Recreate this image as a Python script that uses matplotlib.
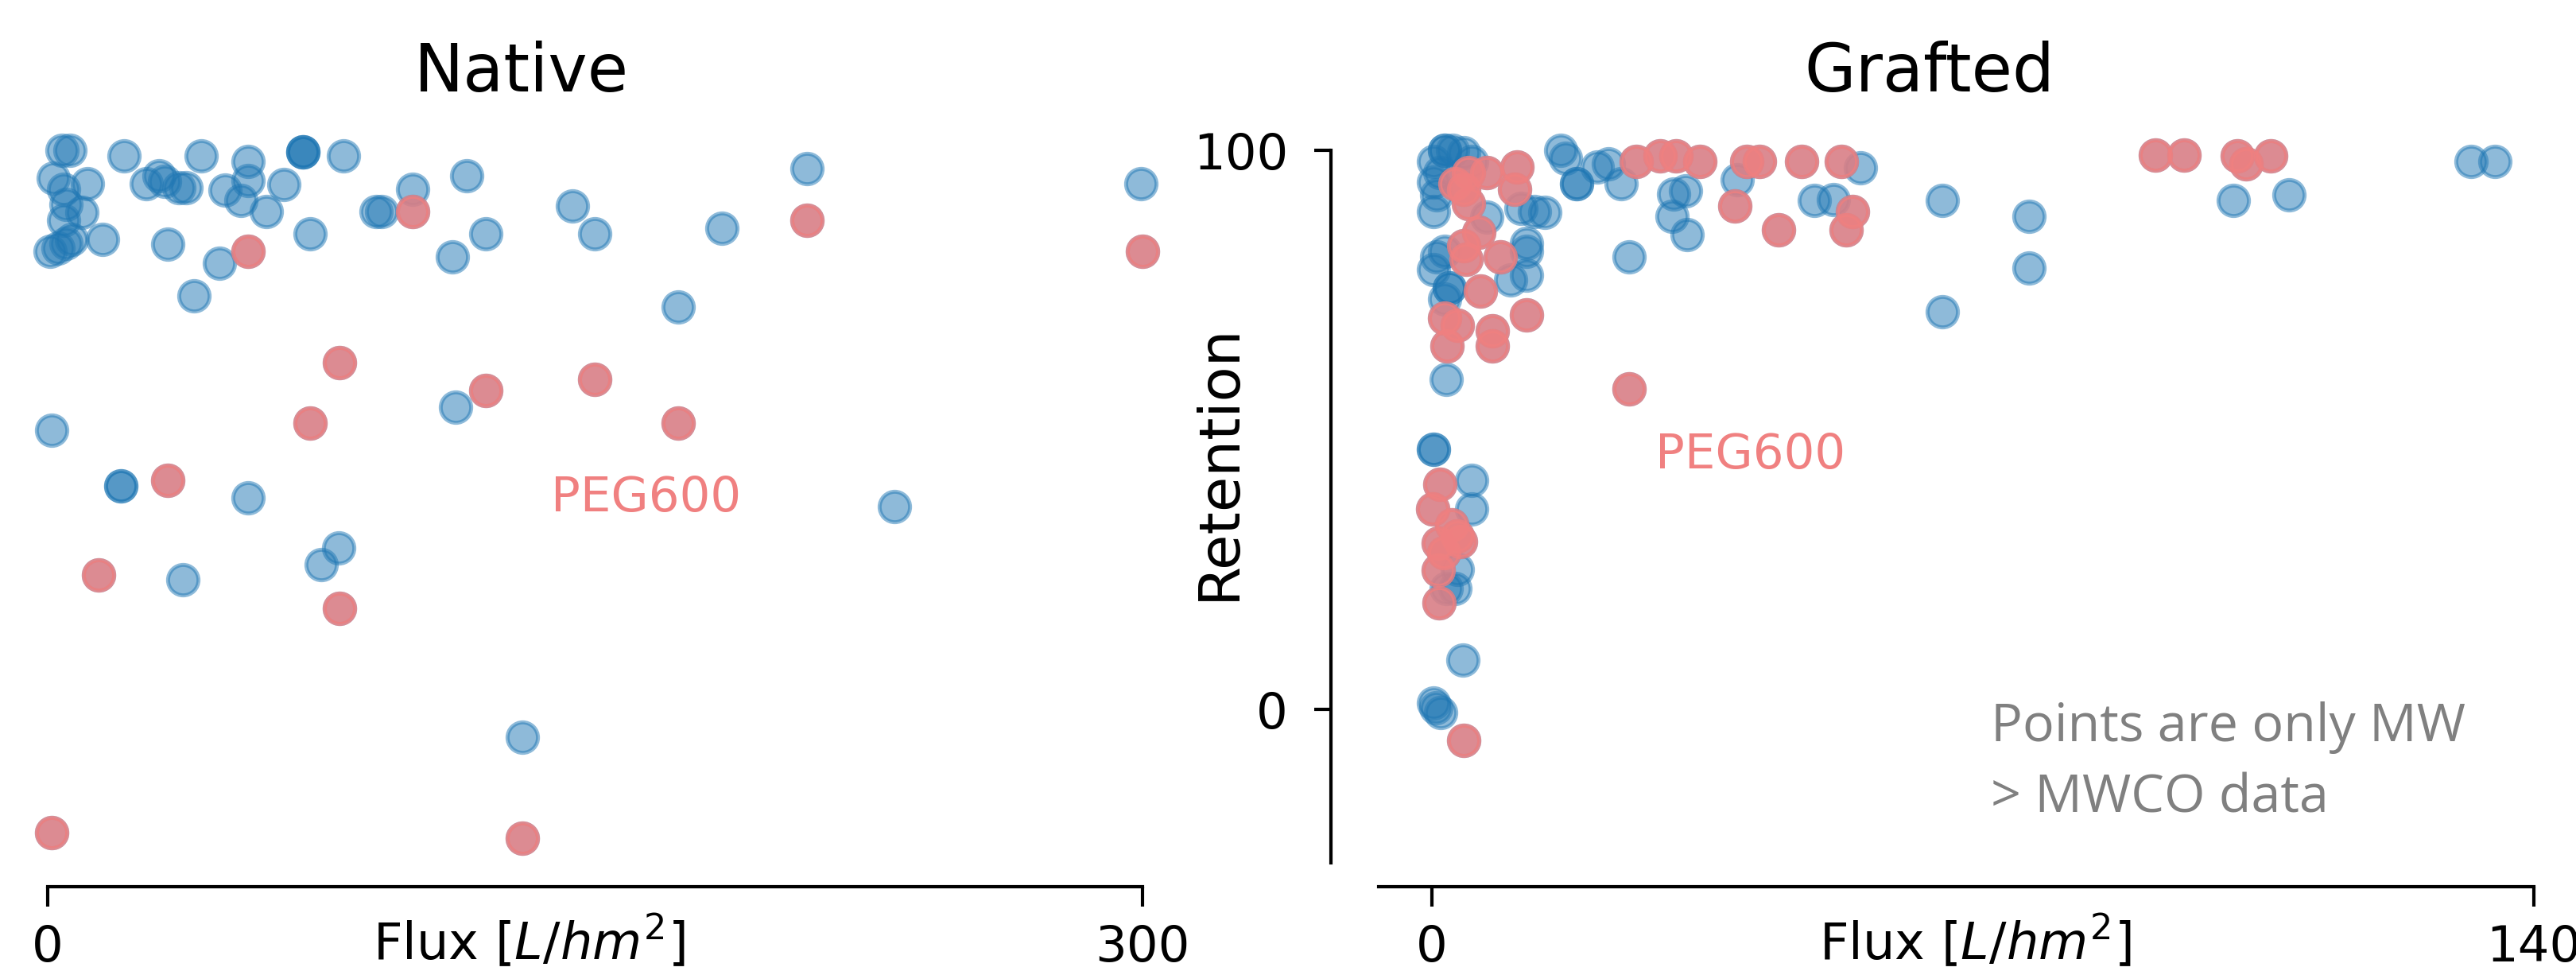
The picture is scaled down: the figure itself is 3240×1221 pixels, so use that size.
import numpy as np
import matplotlib
matplotlib.use("Agg")
import matplotlib.pyplot as plt

# ---------------- data ----------------
native_flux = [4, 6, 21, 42, 55, 70, 70, 70, 81, 1.5, 11, 4.4, 27, 30.5, 32, 36, 38, 48.6, 55, 53,
               64.7, 60, 5, 9.4, 4.4, 0.7, 2.8, 5, 6.5, 15, 33, 47, 40, 72, 90, 91.5, 100, 1, 20, 20,
               55, 37, 79.7, 75, 130, 114.8, 120, 111, 143.8, 150, 184.7, 208, 172.8, 111.8, 232, 299.6]
native_ret = [100, 100, 99, 99, 98, 99.7, 99.7, 99.7, 99, 95, 94, 93, 94, 95.5, 94.5, 93.3, 93.3, 92.9, 94.6, 91,
              93.9, 89, 90.3, 88.9, 87.5, 82, 82.5, 83.4, 84, 84, 83.2, 79.8, 74, 85, 89, 89, 93, 50, 40, 40,
              37.8, 23.2, 28.9, 25.9, -5, 95.5, 85, 81, 90, 85, 86, 96.7, 72, 54, 36.3, 94]

native_peg_flux = [55, 100, 80, 72, 33, 14, 80, 1, 130, 120, 150, 172.8, 208, 300]
native_peg_ret = [82, 89, 62, 51.2, 41, 24, 18, -22, -23, 57, 59, 51.2, 87.5, 82]

grafted_flux = [1.6, 1.6, 0.2, 2.6, 4, 5, 1, 0.2, 0.6, 0.2,
                7, 11.3, 13, 14.3,
                16.4, 17, 18.4, 18.4, 21, 22.4, 24, 25,
                0.6, 1.6, 0.2, 12, 12, 12, 10, 2.2, 2.2, 1.6, 1.8,
                0.2, 0.2, 5, 5, 3.2, 2.9, 1.8, 3.9, 0.2, 1.1, 0.5,
                54.4, 38.8, 32.2, 30.7, 30.5, 32.4, 48.6, 51, 64.8, 64.8, 75.9, 75.9, 101.8, 108.9, 132, 135]
grafted_ret = [100, 100, 98, 100, 99.6, 98, 96, 94.3, 92, 89,
               88, 89.6, 89, 88.9,
               100, 98.6, 94, 94, 97, 97.6, 94, 81,
               81, 82, 78.7, 83.4, 82, 77.7, 76.8, 75.4, 75.4, 73.4, 59,
               46.5, 46.5, 41, 35.8, 25, 21.6, 21.6, 8.8, 1.1, -0.6, 0.3,
               96.9, 94.7, 92.7, 92.2, 88.2, 84.9, 91, 91.2, 91, 71.1, 88.2, 79, 91, 92, 98, 98]

grafted_peg_flux = [2.9, 4.6, 7, 10.8, 10.5, 4.6, 4, 26, 29, 25,
                    4, 6, 4.3, 8.7, 6.2, 12, 1.6, 3.2, 1.9, 7.7, 7.7,
                    1, 0.1, 2.5, 3.2, 0.8, 3.6, 1.5, 0.8, 0.9, 4,
                    31, 34, 40, 41.6, 47, 52, 38.5, 44, 53.4, 52.6,
                    91.9, 95.6, 102.3, 106.6, 103.4]
grafted_peg_ret = [94, 96, 96, 97, 93, 90.5, 93, 98, 99, 57.3,
                   83, 85.3, 80.5, 81, 74.8, 70.6, 70, 68.7, 65, 67.7, 65,
                   40.3, 35.8, 33, 31, 29.8, 30, 28, 24.9, 19, -5.5,
                   99, 98, 98, 98, 98, 98, 90, 85.8, 89, 85.8,
                   99.2, 99.2, 99, 99, 97.6]

native_xticks = [0, 300]
grafted_xticks = [0, 140]
yticks = [0, 100]

# ---------------- figure ----------------
W, H, DPI = 3241, 1221, 200
fig = plt.figure(figsize=(W / DPI, H / DPI), dpi=DPI)
PT = 72.0 / DPI  # points per pixel

BLUE = "#1f77b4"
RED = "lightcoral"
S = 190
LW = 1.8

ylim = (-27.45, 105.55)
ax1 = fig.add_axes([20 / W, 1 - 1085 / H, 1450 / W, 935 / H])
ax2 = fig.add_axes([1734 / W, 1 - 1085 / H, 1453 / W, 935 / H])
ax1.set_xlim(-8.71, 307.2)
ax2.set_xlim(-6.77, 140)
for ax in (ax1, ax2):
    ax.set_ylim(*ylim)

def draw(ax, fx, ry, pfx, pry):
    allx = list(fx) + list(pfx)
    ally = list(ry) + list(pry)
    ax.scatter(allx, ally, s=S, c=BLUE, alpha=0.5, linewidths=LW,
               edgecolors=BLUE, clip_on=False, zorder=2)
    ax.scatter(pfx, pry, s=S, c=RED, alpha=0.8, linewidths=LW,
               edgecolors=RED, clip_on=False, zorder=3)

draw(ax1, native_flux, native_ret, native_peg_flux, native_peg_ret)
draw(ax2, grafted_flux, grafted_ret, grafted_peg_flux, grafted_peg_ret)

# spines
for ax in (ax1, ax2):
    ax.spines["top"].set_visible(False)
    ax.spines["right"].set_visible(False)
    ax.spines["bottom"].set_position(("outward", 30 * PT))
    ax.spines["bottom"].set_linewidth(1.5)
    ax.tick_params(axis="x", length=25 * PT, width=1.5, labelsize=22.5, pad=22 * PT)

ax1.spines["left"].set_visible(False)
ax1.set_yticks([])
ax1.spines["bottom"].set_bounds(0, 300)
ax1.set_xticks(native_xticks)
ax1.set_xticklabels([str(v) for v in native_xticks])

ax2.spines["left"].set_position(("outward", 60 * PT))
ax2.spines["left"].set_linewidth(1.5)
ax2.spines["left"].set_bounds(ylim[0], 100)
ax2.set_xticks(grafted_xticks)
ax2.set_xticklabels([str(v) for v in grafted_xticks])
ax2.set_yticks(yticks)
ax2.set_yticklabels([str(v) for v in yticks])
ax2.tick_params(axis="y", length=21 * PT, width=1.5, labelsize=22.5, pad=33 * PT)

# axis labels
for ax, xc in ((ax1, (665 - 20) / 1450), (ax2, (2484 - 1734) / 1453)):
    ax.set_xlabel(r"Flux [$L/hm^2$]", fontsize=23)
    ax.xaxis.set_label_coords(xc, (1085 - 1184) / 935)
    ax.xaxis.label.set_verticalalignment("center")

fig.text(1533 / W, 1 - 581 / H, "Retention", rotation=90, ha="center", va="center", fontsize=26)

# titles
fig.text(656 / W, 1 - 115 / H, "Native", ha="center", va="baseline", fontsize=30)
fig.text(2427 / W, 1 - 115 / H, "Grafted", ha="center", va="baseline", fontsize=30)

# annotations
ax1.text(137.9, 35.4, "PEG600", color=RED, fontsize=22, ha="left", va="baseline")
ax2.text(28.4, 43.1, "PEG600", color=RED, fontsize=22, ha="left", va="baseline")
fig.text(2504 / W, 1 - 932 / H, "Points are only MW", color="gray", fontsize=23.9,
         family=["Open Sans", "DejaVu Sans"], ha="left", va="baseline")
fig.text(2504 / W, 1 - 1022 / H, "> MWCO data", color="gray", fontsize=23.9,
         family=["Open Sans", "DejaVu Sans"], ha="left", va="baseline")

fig.savefig("out.png", dpi=DPI)
